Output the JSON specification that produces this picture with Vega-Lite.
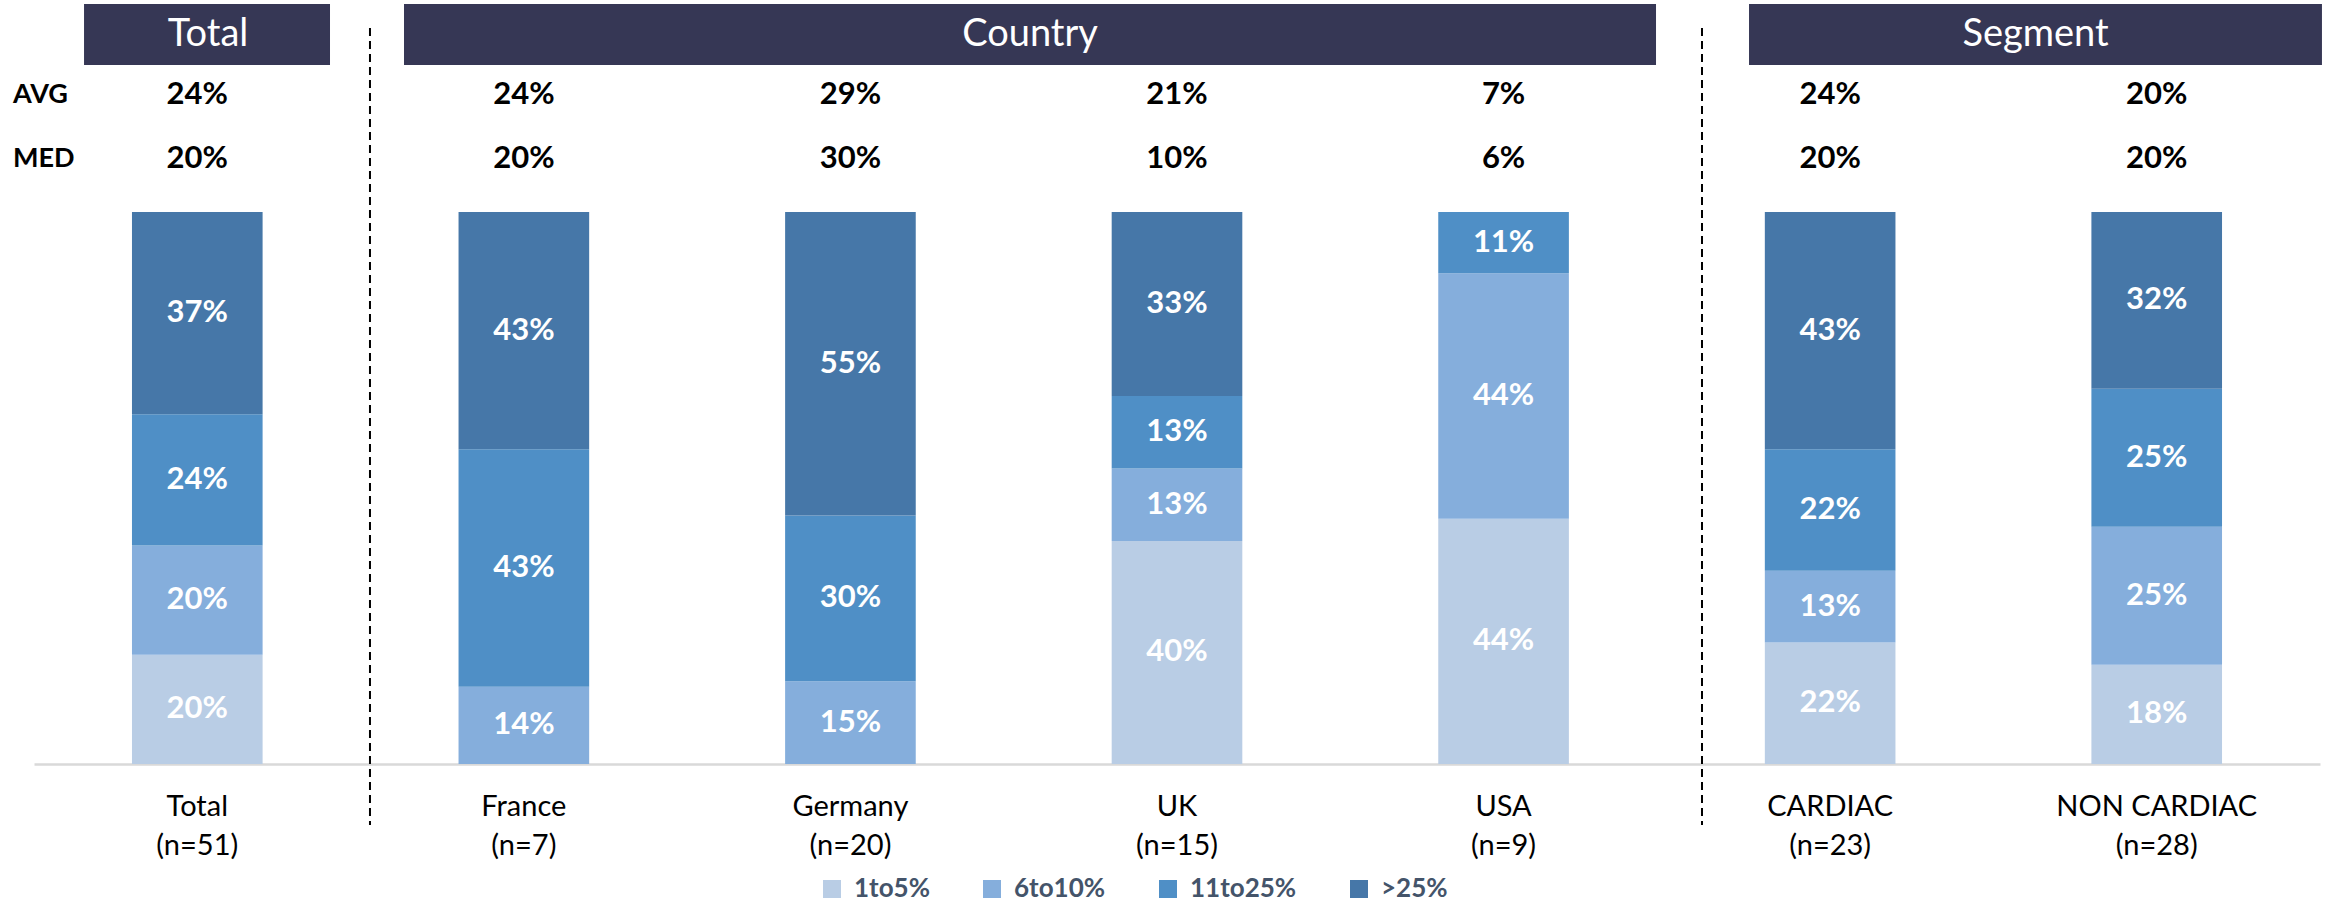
{
  "$schema": "https://vega.github.io/schema/vega-lite/v6.json",
  "width": 2286,
  "height": 764,
  "autosize": {"type": "none"},
  "padding": {"left": 34, "top": 0, "right": 16, "bottom": 142},
  "background": "white",
  "config": {"view": {"stroke": null}, "font": "Lato"},
  "datasets": {
    "dist": [
      {"cat": "Total", "band": "1to5%", "pct": 20},
      {"cat": "Total", "band": "6to10%", "pct": 20},
      {"cat": "Total", "band": "11to25%", "pct": 24},
      {"cat": "Total", "band": ">25%", "pct": 37},
      {"cat": "France", "band": "6to10%", "pct": 14},
      {"cat": "France", "band": "11to25%", "pct": 43},
      {"cat": "France", "band": ">25%", "pct": 43},
      {"cat": "Germany", "band": "6to10%", "pct": 15},
      {"cat": "Germany", "band": "11to25%", "pct": 30},
      {"cat": "Germany", "band": ">25%", "pct": 55},
      {"cat": "UK", "band": "1to5%", "pct": 40},
      {"cat": "UK", "band": "6to10%", "pct": 13},
      {"cat": "UK", "band": "11to25%", "pct": 13},
      {"cat": "UK", "band": ">25%", "pct": 33},
      {"cat": "USA", "band": "1to5%", "pct": 44},
      {"cat": "USA", "band": "6to10%", "pct": 44},
      {"cat": "USA", "band": "11to25%", "pct": 11},
      {"cat": "CARDIAC", "band": "1to5%", "pct": 22},
      {"cat": "CARDIAC", "band": "6to10%", "pct": 13},
      {"cat": "CARDIAC", "band": "11to25%", "pct": 22},
      {"cat": "CARDIAC", "band": ">25%", "pct": 43},
      {"cat": "NON CARDIAC", "band": "1to5%", "pct": 18},
      {"cat": "NON CARDIAC", "band": "6to10%", "pct": 25},
      {"cat": "NON CARDIAC", "band": "11to25%", "pct": 25},
      {"cat": "NON CARDIAC", "band": ">25%", "pct": 32}
    ],
    "groups": [
      {"cat": "Total", "n": 51},
      {"cat": "France", "n": 7},
      {"cat": "Germany", "n": 20},
      {"cat": "UK", "n": 15},
      {"cat": "USA", "n": 9},
      {"cat": "CARDIAC", "n": 23},
      {"cat": "NON CARDIAC", "n": 28}
    ],
    "stats": [
      {"cat": "Total", "stat": "AVG", "v": 24},
      {"cat": "France", "stat": "AVG", "v": 24},
      {"cat": "Germany", "stat": "AVG", "v": 29},
      {"cat": "UK", "stat": "AVG", "v": 21},
      {"cat": "USA", "stat": "AVG", "v": 7},
      {"cat": "CARDIAC", "stat": "AVG", "v": 24},
      {"cat": "NON CARDIAC", "stat": "AVG", "v": 20},
      {"cat": "Total", "stat": "MED", "v": 20},
      {"cat": "France", "stat": "MED", "v": 20},
      {"cat": "Germany", "stat": "MED", "v": 30},
      {"cat": "UK", "stat": "MED", "v": 10},
      {"cat": "USA", "stat": "MED", "v": 6},
      {"cat": "CARDIAC", "stat": "MED", "v": 20},
      {"cat": "NON CARDIAC", "stat": "MED", "v": 20}
    ]
  },
  "layer": [
    {
      "data": {"name": "dist"},
      "transform": [
        {"calculate": "indexof(['1to5%','6to10%','11to25%','>25%'], datum.band)", "as": "k"},
        {"stack": "pct", "groupby": ["cat"], "sort": [{"field": "k", "order": "ascending"}], "offset": "normalize", "as": ["y0", "y1"]}
      ],
      "mark": {"type": "bar"},
      "encoding": {
        "x": {
          "field": "cat", "type": "nominal",
          "scale": {"type": "band", "domain": ["Total", "France", "Germany", "UK", "USA", "CARDIAC", "NON CARDIAC"], "paddingInner": 0.6, "paddingOuter": 0.3},
          "axis": {"title": null, "labels": false, "ticks": false, "tickSize": 0, "domain": true, "domainColor": "#D9D9D9", "domainWidth": 2.5, "grid": false}
        },
        "y": {"field": "y0", "type": "quantitative", "scale": {"domain": [0, 1.3841], "nice": false, "zero": false}, "axis": null},
        "y2": {"field": "y1"},
        "color": {
          "field": "band", "type": "nominal",
          "scale": {"domain": ["1to5%", "6to10%", "11to25%", ">25%"], "range": ["#B9CDE5", "#85AEDC", "#4F8FC6", "#4677A8"]},
          "legend": {
            "orient": "none", "legendX": 785, "legendY": 876, "direction": "horizontal", "title": null,
            "symbolType": "square", "symbolSize": 324, "symbolStrokeWidth": 0, "symbolOpacity": 1,
            "labelFont": "Lato", "labelFontSize": 26, "labelFontWeight": "bold", "labelColor": "#44546A",
            "columnPadding": 49, "labelOffset": 9, "padding": 0
          }
        }
      }
    },
    {
      "data": {"name": "dist"},
      "transform": [
        {"calculate": "indexof(['1to5%','6to10%','11to25%','>25%'], datum.band)", "as": "k"},
        {"stack": "pct", "groupby": ["cat"], "sort": [{"field": "k", "order": "ascending"}], "offset": "normalize", "as": ["y0", "y1"]},
        {"calculate": "(datum.y0 + datum.y1) / 2", "as": "mid"},
        {"calculate": "datum.pct + '%'", "as": "lab"}
      ],
      "mark": {"type": "text", "color": "white", "fontSize": 31, "fontWeight": "bold", "baseline": "middle", "align": "center"},
      "encoding": {
        "x": {"field": "cat", "type": "nominal"},
        "y": {"field": "mid", "type": "quantitative"},
        "text": {"field": "lab"}
      }
    },
    {
      "data": {"values": [{"group": "Total", "first": "Total", "last": "Total"}]},
      "mark": {"type": "rect", "color": "#363755"},
      "encoding": {
        "x": {"field": "first", "type": "nominal", "bandPosition": -0.367},
        "x2": {"field": "last", "bandPosition": 1.516},
        "y": {"datum": 1.3768},
        "y2": {"datum": 1.2663}
      }
    },
    {
      "data": {"values": [{"group": "Country", "first": "France", "last": "USA"}]},
      "mark": {"type": "rect", "color": "#363755"},
      "encoding": {
        "x": {"field": "first", "type": "nominal", "bandPosition": -0.4175},
        "x2": {"field": "last", "bandPosition": 1.667},
        "y": {"datum": 1.3768},
        "y2": {"datum": 1.2663}
      }
    },
    {
      "data": {"values": [{"group": "Segment", "first": "CARDIAC", "last": "NON CARDIAC"}]},
      "mark": {"type": "rect", "color": "#363755"},
      "encoding": {
        "x": {"field": "first", "type": "nominal", "bandPosition": -0.121},
        "x2": {"field": "last", "bandPosition": 1.765},
        "y": {"datum": 1.3768},
        "y2": {"datum": 1.2663}
      }
    },
    {
      "data": {"values": [{"group": "Total", "first": "Total"}]},
      "mark": {"type": "text", "color": "white", "fontSize": 38, "baseline": "middle", "align": "center"},
      "encoding": {
        "x": {"field": "first", "type": "nominal", "bandPosition": 0.582},
        "y": {"datum": 1.3206},
        "text": {"field": "group"}
      }
    },
    {
      "data": {"values": [{"group": "Country", "first": "France"}]},
      "mark": {"type": "text", "color": "white", "fontSize": 38, "baseline": "middle", "align": "center"},
      "encoding": {
        "x": {"field": "first", "type": "nominal", "bandPosition": 4.375},
        "y": {"datum": 1.3206},
        "text": {"field": "group"}
      }
    },
    {
      "data": {"values": [{"group": "Segment", "first": "CARDIAC"}]},
      "mark": {"type": "text", "color": "white", "fontSize": 38, "baseline": "middle", "align": "center"},
      "encoding": {
        "x": {"field": "first", "type": "nominal", "bandPosition": 2.072},
        "y": {"datum": 1.3206},
        "text": {"field": "group"}
      }
    },
    {
      "data": {"values": [{"after": "Total"}]},
      "mark": {"type": "rule", "color": "black", "strokeWidth": 2, "strokeDash": [8, 5]},
      "encoding": {
        "x": {"field": "after", "type": "nominal", "bandPosition": 1.822},
        "y": {"datum": 1.3333},
        "y2": {"datum": -0.1105}
      }
    },
    {
      "data": {"values": [{"after": "USA"}]},
      "mark": {"type": "rule", "color": "black", "strokeWidth": 2, "strokeDash": [8, 5]},
      "encoding": {
        "x": {"field": "after", "type": "nominal", "bandPosition": 2.019},
        "y": {"datum": 1.3333},
        "y2": {"datum": -0.1105}
      }
    },
    {
      "data": {"name": "stats"},
      "transform": [{"filter": "datum.stat == 'AVG'"}, {"calculate": "datum.v + '%'", "as": "lab"}],
      "mark": {"type": "text", "color": "black", "fontSize": 31, "fontWeight": "bold", "baseline": "middle", "align": "center"},
      "encoding": {
        "x": {"field": "cat", "type": "nominal"},
        "y": {"datum": 1.2120},
        "text": {"field": "lab"}
      }
    },
    {
      "data": {"name": "stats"},
      "transform": [{"filter": "datum.stat == 'MED'"}, {"calculate": "datum.v + '%'", "as": "lab"}],
      "mark": {"type": "text", "color": "black", "fontSize": 31, "fontWeight": "bold", "baseline": "middle", "align": "center"},
      "encoding": {
        "x": {"field": "cat", "type": "nominal"},
        "y": {"datum": 1.0960},
        "text": {"field": "lab"}
      }
    },
    {
      "data": {"values": [{"stat": "AVG", "cat": "Total"}]},
      "mark": {"type": "text", "color": "black", "fontSize": 27, "fontWeight": "bold", "baseline": "middle", "align": "left"},
      "encoding": {
        "x": {"field": "cat", "type": "nominal", "bandPosition": -0.911},
        "y": {"datum": 1.2120},
        "text": {"field": "stat"}
      }
    },
    {
      "data": {"values": [{"stat": "MED", "cat": "Total"}]},
      "mark": {"type": "text", "color": "black", "fontSize": 27, "fontWeight": "bold", "baseline": "middle", "align": "left"},
      "encoding": {
        "x": {"field": "cat", "type": "nominal", "bandPosition": -0.911},
        "y": {"datum": 1.0960},
        "text": {"field": "stat"}
      }
    },
    {
      "data": {"name": "groups"},
      "transform": [{"calculate": "[datum.cat, '(n=' + datum.n + ')']", "as": "lines"}],
      "mark": {"type": "text", "color": "black", "fontSize": 29, "baseline": "top", "align": "center", "lineHeight": 39},
      "encoding": {
        "x": {"field": "cat", "type": "nominal"},
        "y": {"datum": -0.0525},
        "text": {"field": "lines"}
      }
    }
  ]
}
